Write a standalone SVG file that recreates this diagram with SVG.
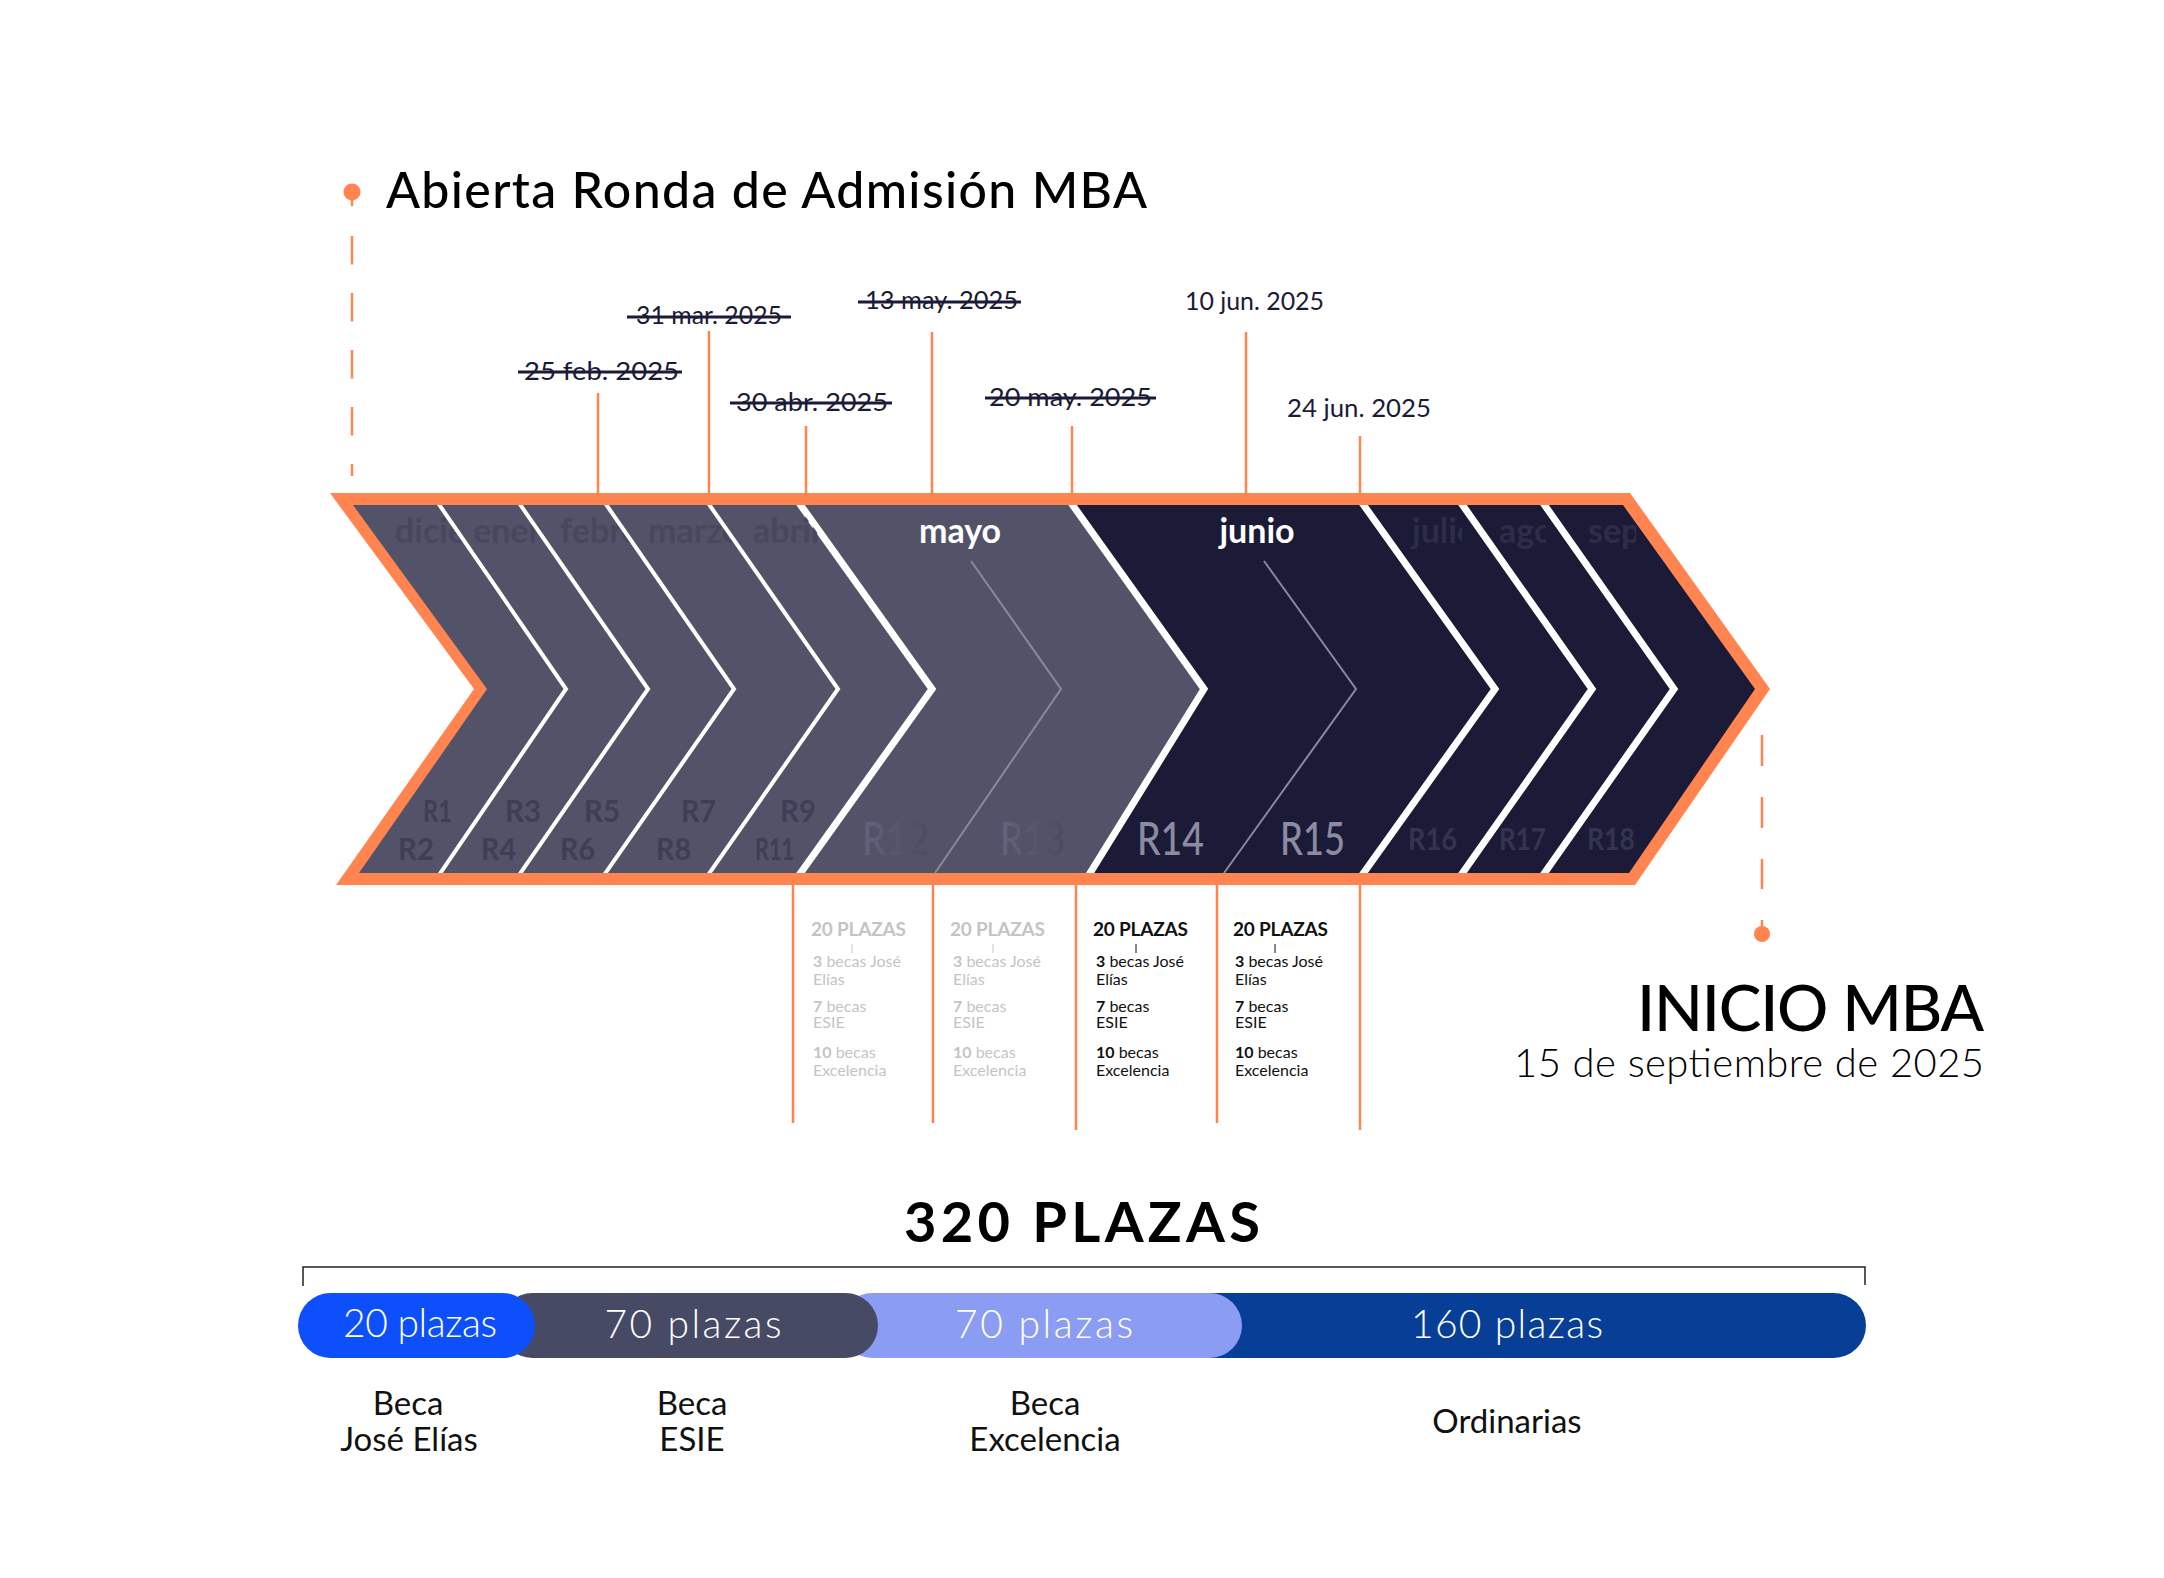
<svg xmlns="http://www.w3.org/2000/svg" width="2164" height="1578" viewBox="0 0 2164 1578">
<style>
text{font-family:Lato,"Open Sans","Liberation Sans",sans-serif}
.date{font-size:25px;fill:#1b1b38}
.strike{stroke:#1b1b38;stroke-width:3}
.tick{stroke:#ff8450;stroke-width:2.5;fill:none}
.sep{stroke:#fff;fill:none;stroke-linejoin:miter}
.thin{stroke:#8a8a9c;stroke-width:2;fill:none}
.mon{font-size:34px;font-weight:700}
.monG{fill:#47475d}
.monD{fill:#2d2d48}
.rs{font-size:30px;font-weight:700;fill:#3e3e55}
.rl{stroke:url(#ulg);stroke-width:3}
.head{font-size:19px;font-weight:700}
.bt{font-size:16px}
.grey{fill:#c4c4c4}
.blk{fill:#111}
.bar{font-size:39px;font-weight:300;fill:#fff;text-anchor:middle}
.lab{font-size:33px;font-weight:400;fill:#111;text-anchor:middle}
</style>
<defs>
<linearGradient id="ulg" x1="0" x2="1" y1="0" y2="0">
<stop offset="0" stop-color="#8a8a9c"/><stop offset="0.5" stop-color="#3e3e55"/><stop offset="1" stop-color="#3e3e55"/>
</linearGradient>
<linearGradient id="rg" x1="0" x2="1" y1="0" y2="0">
<stop offset="0" stop-color="#64647c"/><stop offset="1" stop-color="#4a4a60"/>
</linearGradient>
<clipPath id="inner"><polygon points="353,505 1623,505 1755,689 1629,873 359,873 487,689"/></clipPath>
<clipPath id="s1"><polygon points="353,505 436,505 566,689 437,873 359,873 487,689"/></clipPath>
<clipPath id="s2"><polygon points="436,505 517,505 648,689 517,873 437,873 566,689"/></clipPath>
<clipPath id="s3"><polygon points="517,505 603,505 734,689 602,873 517,873 648,689"/></clipPath>
<clipPath id="s4"><polygon points="603,505 706,505 838,689 706,873 602,873 734,689"/></clipPath>
<clipPath id="s5"><polygon points="706,505 797,505 932,689 797,873 706,873 838,689"/></clipPath>
<clipPath id="s8"><rect x="1380" y="505" width="82" height="60"/></clipPath>
<clipPath id="s9"><rect x="1470" y="505" width="76" height="60"/></clipPath>
<clipPath id="s10"><rect x="1555" y="505" width="81" height="60"/></clipPath>
</defs>
<rect width="2164" height="1578" fill="#fff"/>

<g id="title">
<text x="386" y="208" font-size="50" font-weight="500" fill="#000" textLength="761">Abierta Ronda de Admisión MBA</text>
</g>

<g id="chevron">
<polygon points="330,493 1630,493 1770,689 1635,885 336,885 474,689" fill="#ff8450"/>
<polygon points="353,505 1069,505 1204,689 1087,873 359,873 487,689" fill="#525268"/>
<polygon points="1069,505 1623,505 1755,689 1629,873 1087,873 1204,689" fill="#1b1b38"/>
<g clip-path="url(#inner)">
<polyline class="sep" stroke-width="4" points="436,500 566,689 437,878"/>
<polyline class="sep" stroke-width="4" points="517,500 648,689 517,878"/>
<polyline class="sep" stroke-width="4" points="603,500 734,689 602,878"/>
<polyline class="sep" stroke-width="4" points="706,500 838,689 706,878"/>
<polyline class="sep" stroke-width="7" points="797,500 932,689 797,878"/>
<polyline class="sep" stroke-width="7" points="1069,500 1204,689 1087,878"/>
<polyline class="sep" stroke-width="7" points="1360,500 1495,689 1360,878"/>
<polyline class="sep" stroke-width="7" points="1459,500 1592,689 1459,878"/>
<polyline class="sep" stroke-width="7" points="1541,500 1674,689 1541,878"/>
</g>
<polyline class="thin" points="971,561 1061,689 935,873"/>
<polyline class="thin" points="1264,561 1356,689 1224,873"/>
</g>

<g id="months">
<text class="mon monG" x="395" y="543" clip-path="url(#s1)">diciembre</text>
<text class="mon monG" x="473" y="543" clip-path="url(#s2)">enero</text>
<text class="mon monG" x="560" y="543" clip-path="url(#s3)">febrero</text>
<text class="mon monG" x="648" y="543" clip-path="url(#s4)">marzo</text>
<text class="mon monG" x="753" y="543" clip-path="url(#s5)">abril</text>
<text class="mon" x="960" y="543" fill="#fff" text-anchor="middle">mayo</text>
<text class="mon" x="1257" y="543" fill="#fff" text-anchor="middle">junio</text>
<text class="mon monD" x="1412" y="543" clip-path="url(#s8)">julio</text>
<text class="mon monD" x="1499" y="543" clip-path="url(#s9)">agosto</text>
<text class="mon monD" x="1588" y="543" clip-path="url(#s10)">septiembre</text>
</g>

<g id="rounds">
<text class="rs" x="423" y="822" textLength="29" lengthAdjust="spacingAndGlyphs">R1</text>
<text class="rs" x="398" y="860" textLength="36" lengthAdjust="spacingAndGlyphs">R2</text>
<line class="rl" x1="403" y1="829" x2="469" y2="829"/>
<text class="rs" x="505" y="822" textLength="36" lengthAdjust="spacingAndGlyphs">R3</text>
<text class="rs" x="481" y="860" textLength="35" lengthAdjust="spacingAndGlyphs">R4</text>
<line class="rl" x1="485" y1="829" x2="550" y2="829"/>
<text class="rs" x="584" y="822" textLength="36" lengthAdjust="spacingAndGlyphs">R5</text>
<text class="rs" x="560" y="860" textLength="35" lengthAdjust="spacingAndGlyphs">R6</text>
<line class="rl" x1="565" y1="829" x2="630" y2="829"/>
<text class="rs" x="681" y="822" textLength="35" lengthAdjust="spacingAndGlyphs">R7</text>
<text class="rs" x="656" y="860" textLength="35" lengthAdjust="spacingAndGlyphs">R8</text>
<line class="rl" x1="661" y1="829" x2="726" y2="829"/>
<text class="rs" x="780" y="822" textLength="36" lengthAdjust="spacingAndGlyphs">R9</text>
<text class="rs" x="755" y="860" textLength="39" lengthAdjust="spacingAndGlyphs">R11</text>
<line class="rl" x1="761" y1="829" x2="824" y2="829"/>
<text x="862" y="855" font-size="46" font-weight="500" fill="url(#rg)" textLength="67" lengthAdjust="spacingAndGlyphs">R12</text>
<text x="1000" y="855" font-size="46" font-weight="500" fill="url(#rg)" textLength="65" lengthAdjust="spacingAndGlyphs">R13</text>
<text x="1137" y="855" font-size="46" font-weight="500" fill="#8c8ca0" textLength="67" lengthAdjust="spacingAndGlyphs">R14</text>
<text x="1280" y="855" font-size="46" font-weight="500" fill="#8c8ca0" textLength="65" lengthAdjust="spacingAndGlyphs">R15</text>
<text x="1408" y="850" font-size="31" font-weight="700" fill="#34344e" textLength="49" lengthAdjust="spacingAndGlyphs">R16</text>
<text x="1499" y="850" font-size="31" font-weight="700" fill="#34344e" textLength="47" lengthAdjust="spacingAndGlyphs">R17</text>
<text x="1587" y="850" font-size="31" font-weight="700" fill="#34344e" textLength="48" lengthAdjust="spacingAndGlyphs">R18</text>
</g>

<g id="dates">
<text class="date" x="524" y="380" textLength="155" lengthAdjust="spacingAndGlyphs">25 feb. 2025</text>
<line class="strike" x1="518" y1="372" x2="682" y2="372"/>
<text class="date" x="636" y="324" textLength="146" lengthAdjust="spacingAndGlyphs">31 mar. 2025</text>
<line class="strike" x1="627" y1="317" x2="791" y2="317"/>
<text class="date" x="736" y="411" textLength="152" lengthAdjust="spacingAndGlyphs">30 abr. 2025</text>
<line class="strike" x1="730" y1="403" x2="892" y2="403"/>
<text class="date" x="865" y="309" textLength="153" lengthAdjust="spacingAndGlyphs">13 may. 2025</text>
<line class="strike" x1="858" y1="302" x2="1021" y2="302"/>
<text class="date" x="989" y="406" textLength="163" lengthAdjust="spacingAndGlyphs">20 may. 2025</text>
<line class="strike" x1="985" y1="398" x2="1156" y2="398"/>
<text class="date" x="1185" y="310" textLength="139" lengthAdjust="spacingAndGlyphs">10 jun. 2025</text>
<text class="date" x="1287" y="417" textLength="144" lengthAdjust="spacingAndGlyphs">24 jun. 2025</text>
</g>

<g id="connectors">
<line class="tick" x1="598" y1="393" x2="598" y2="494"/>
<line class="tick" x1="709" y1="331" x2="709" y2="494"/>
<line class="tick" x1="806" y1="426" x2="806" y2="494"/>
<line class="tick" x1="932" y1="332" x2="932" y2="494"/>
<line class="tick" x1="1072" y1="426" x2="1072" y2="494"/>
<line class="tick" x1="1246" y1="332" x2="1246" y2="494"/>
<line class="tick" x1="1360" y1="436" x2="1360" y2="494"/>
<line class="tick" x1="793" y1="884" x2="793" y2="1123"/>
<line class="tick" x1="933" y1="884" x2="933" y2="1123"/>
<line class="tick" x1="1076" y1="884" x2="1076" y2="1130"/>
<line class="tick" x1="1217" y1="884" x2="1217" y2="1123"/>
<line class="tick" x1="1360" y1="884" x2="1360" y2="1130"/>
<circle cx="352" cy="192" r="8.5" fill="#ff8450"/>
<line class="tick" x1="352" y1="192" x2="352" y2="206"/>
<line class="tick" x1="352" y1="236" x2="352" y2="476" stroke-dasharray="28.5 28.5"/>
<line class="tick" x1="1762" y1="735" x2="1762" y2="889" stroke-dasharray="31 31"/>
<line class="tick" x1="1762" y1="920" x2="1762" y2="934"/>
<circle cx="1762" cy="934" r="8" fill="#ff8450"/>
</g>

<g id="inicio">
<text x="1984" y="1031" font-size="64" font-weight="500" fill="#000" text-anchor="end" textLength="347">INICIO MBA</text>
<text x="1984" y="1077" font-size="40" font-weight="300" fill="#000" text-anchor="end" textLength="470">15 de septiembre de 2025</text>
</g>

<g id="box1">
<text class="head grey" x="811" y="936" textLength="95">20 PLAZAS</text>
<line x1="852" y1="944" x2="852" y2="953" stroke="#c4c4c4" stroke-width="1"/>
<text class="bt grey" x="813" y="967"><tspan font-weight="700">3</tspan> becas José</text>
<text class="bt grey" x="813" y="985">Elías</text>
<text class="bt grey" x="813" y="1012"><tspan font-weight="700">7</tspan> becas</text>
<text class="bt grey" x="813" y="1028">ESIE</text>
<text class="bt grey" x="813" y="1058"><tspan font-weight="700">10</tspan> becas</text>
<text class="bt grey" x="813" y="1076">Excelencia</text>
</g>
<g id="box2">
<text class="head grey" x="950" y="936" textLength="95">20 PLAZAS</text>
<line x1="993" y1="944" x2="993" y2="953" stroke="#c4c4c4" stroke-width="1"/>
<text class="bt grey" x="953" y="967"><tspan font-weight="700">3</tspan> becas José</text>
<text class="bt grey" x="953" y="985">Elías</text>
<text class="bt grey" x="953" y="1012"><tspan font-weight="700">7</tspan> becas</text>
<text class="bt grey" x="953" y="1028">ESIE</text>
<text class="bt grey" x="953" y="1058"><tspan font-weight="700">10</tspan> becas</text>
<text class="bt grey" x="953" y="1076">Excelencia</text>
</g>
<g id="box3">
<text class="head blk" x="1093" y="936" textLength="95">20 PLAZAS</text>
<line x1="1136" y1="944" x2="1136" y2="953" stroke="#111" stroke-width="1"/>
<text class="bt blk" x="1096" y="967"><tspan font-weight="700">3</tspan> becas José</text>
<text class="bt blk" x="1096" y="985">Elías</text>
<text class="bt blk" x="1096" y="1012"><tspan font-weight="700">7</tspan> becas</text>
<text class="bt blk" x="1096" y="1028">ESIE</text>
<text class="bt blk" x="1096" y="1058"><tspan font-weight="700">10</tspan> becas</text>
<text class="bt blk" x="1096" y="1076">Excelencia</text>
</g>
<g id="box4">
<text class="head blk" x="1233" y="936" textLength="95">20 PLAZAS</text>
<line x1="1275" y1="944" x2="1275" y2="953" stroke="#111" stroke-width="1"/>
<text class="bt blk" x="1235" y="967"><tspan font-weight="700">3</tspan> becas José</text>
<text class="bt blk" x="1235" y="985">Elías</text>
<text class="bt blk" x="1235" y="1012"><tspan font-weight="700">7</tspan> becas</text>
<text class="bt blk" x="1235" y="1028">ESIE</text>
<text class="bt blk" x="1235" y="1058"><tspan font-weight="700">10</tspan> becas</text>
<text class="bt blk" x="1235" y="1076">Excelencia</text>
</g>

<g id="total">
<text x="1082" y="1242" font-size="56" font-weight="700" fill="#000" text-anchor="middle" textLength="356">320 PLAZAS</text>
<path d="M303,1286 V1267 H1865 V1285" fill="none" stroke="#222" stroke-width="1.5"/>
</g>

<g id="bar">
<rect x="1180" y="1293" width="686" height="65" rx="32.5" fill="#073f96"/>
<rect x="840" y="1293" width="402" height="65" rx="32.5" fill="#8b9cf3"/>
<rect x="500" y="1293" width="378" height="65" rx="32.5" fill="#474a64"/>
<rect x="298" y="1293" width="237" height="65" rx="32.5" fill="#0d4ffb"/>
<text class="bar" x="420" y="1337" font-size="35" textLength="154">20 plazas</text>
<text class="bar" x="693" y="1338" textLength="177">70 plazas</text>
<text class="bar" x="1044" y="1338" textLength="178">70 plazas</text>
<text class="bar" x="1507" y="1338" textLength="192">160 plazas</text>
</g>

<g id="labels">
<text class="lab" x="408" y="1415">Beca</text>
<text class="lab" x="409" y="1451">José Elías</text>
<text class="lab" x="692" y="1415">Beca</text>
<text class="lab" x="692" y="1451">ESIE</text>
<text class="lab" x="1045" y="1415">Beca</text>
<text class="lab" x="1045" y="1451">Excelencia</text>
<text class="lab" x="1507" y="1433">Ordinarias</text>
</g>
</svg>
